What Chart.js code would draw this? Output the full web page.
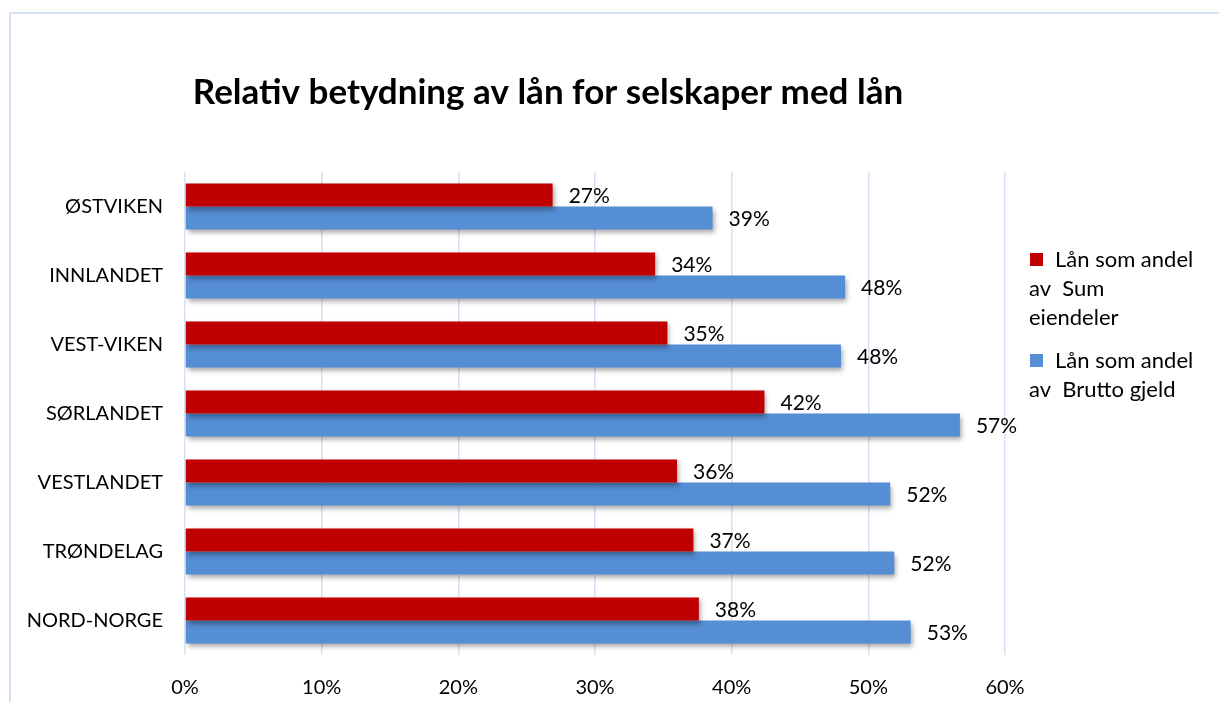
<!DOCTYPE html>
<html>
<head>
<meta charset="utf-8">
<script src="https://cdn.jsdelivr.net/npm/chart.js@4"></script>
<style>
  html, body { margin: 0; padding: 0; background: #ffffff; }
  #wrap { width: 1219px; height: 702px; position: relative; }
</style>
</head>
<body>
<div id="wrap"><canvas id="c" width="1219" height="702"></canvas></div>
<script>
// Regions and loan shares (percent)
const categories = ['ØSTVIKEN', 'INNLANDET', 'VEST-VIKEN', 'SØRLANDET', 'VESTLANDET', 'TRØNDELAG', 'NORD-NORGE'];
const andelSumEiendeler = [26.9, 34.4, 35.3, 42.4, 36.0, 37.2, 37.6];
const andelBruttoGjeld = [38.6, 48.3, 48.0, 56.7, 51.6, 51.9, 53.1];
const seriesNames = [['Lån som andel', 'av  Sum', 'eiendeler'], ['Lån som andel', 'av  Brutto gjeld']];
const tickValues = [0, 10, 20, 30, 40, 50, 60];
const titleText = 'Relativ betydning av lån for selskaper med lån';

const FONT = 'Lato, "Open Sans", sans-serif';
const RED = '#C00000';
const BLUE = '#558ED5';

// Frame, title and legend drawn onto the chart canvas
const decorations = {
  id: 'decorations',
  beforeDraw(chart) {
    const ctx = chart.ctx;
    ctx.save();
    ctx.strokeStyle = '#d5e2f2';
    ctx.lineWidth = 2;
    ctx.beginPath();
    ctx.moveTo(10, 710);
    ctx.lineTo(10, 13);
    ctx.lineTo(1230, 13);
    ctx.stroke();
    ctx.restore();
  },
  afterDraw(chart) {
    const ctx = chart.ctx;
    ctx.save();
    ctx.fillStyle = '#000000';
    ctx.font = 'bold 35px ' + FONT;
    ctx.textAlign = 'center';
    ctx.textBaseline = 'middle';
    ctx.fillText(titleText, 548, 93);

    // legend
    ctx.font = '22px ' + FONT;
    ctx.textAlign = 'left';
    const tops = [260, 361];
    chart.data.datasets.forEach((ds, i) => {
      const y0 = tops[i];
      ctx.fillStyle = ds.backgroundColor;
      ctx.fillRect(1030, y0 - 7, 13, 13);
      ctx.fillStyle = '#000000';
      seriesNames[i].forEach((line, k) => {
        ctx.fillText(line, k === 0 ? 1055 : 1029, y0 + k * 29);
      });
    });
    ctx.restore();
  }
};

// Soft drop shadow under bars
const barShadow = {
  id: 'barShadow',
  beforeDatasetsDraw(chart) {
    const ctx = chart.ctx;
    ctx.save();
    ctx.shadowColor = 'rgba(0,0,0,0.35)';
    ctx.shadowBlur = 5;
    ctx.shadowOffsetX = 2;
    ctx.shadowOffsetY = 3;
  },
  afterDatasetsDraw(chart) {
    chart.ctx.restore();
  }
};

// Value labels at the end of each bar
const valueLabels = {
  id: 'valueLabels',
  afterDatasetsDraw(chart) {
    const ctx = chart.ctx;
    ctx.save();
    ctx.fillStyle = '#000000';
    ctx.font = '21px ' + FONT;
    ctx.textAlign = 'left';
    ctx.textBaseline = 'middle';
    chart.data.datasets.forEach((ds, i) => {
      const meta = chart.getDatasetMeta(i);
      meta.data.forEach((bar, j) => {
        ctx.fillText(Math.round(ds.data[j]) + '%', bar.x + 16, bar.y + 1);
      });
    });
    ctx.restore();
  }
};

new Chart(document.getElementById('c'), {
  type: 'bar',
  data: {
    labels: categories,
    datasets: [
      { label: seriesNames[0].join(' '), data: andelSumEiendeler, backgroundColor: RED, borderWidth: 0 },
      { label: seriesNames[1].join(' '), data: andelBruttoGjeld, backgroundColor: BLUE, borderWidth: 0 }
    ]
  },
  options: {
    indexAxis: 'y',
    responsive: false,
    animation: false,
    layout: { padding: { top: 172, right: 214, bottom: 0, left: 0 } },
    datasets: { bar: { categoryPercentage: 0.67, barPercentage: 1.0 } },
    plugins: {
      legend: { display: false },
      title: { display: false },
      tooltip: { enabled: false }
    },
    scales: {
      x: {
        min: 0,
        max: 60,
        afterBuildTicks(scale) { scale.ticks = tickValues.map(v => ({ value: v })); },
        afterFit(scale) { scale.height = 47; },
        ticks: {
          callback: v => v + '%',
          color: '#000000',
          font: { family: FONT, size: 20 },
          padding: 21,
          maxRotation: 0
        },
        grid: { color: '#d5e2f2', lineWidth: 1.5, drawTicks: false },
        border: { display: false }
      },
      y: {
        afterFit(scale) { scale.width = 185; },
        ticks: {
          color: '#000000',
          font: { family: FONT, size: 20 },
          padding: 22
        },
        grid: { display: false, drawTicks: false },
        border: { display: false }
      }
    }
  },
  plugins: [decorations, barShadow, valueLabels]
});
</script>
</body>
</html>
